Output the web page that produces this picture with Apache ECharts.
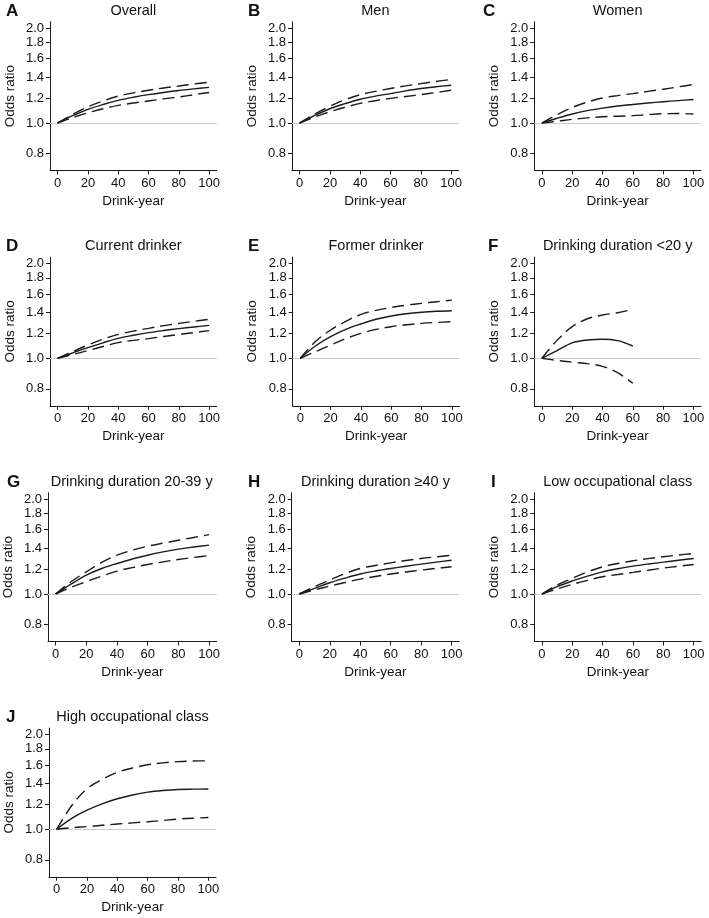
<!DOCTYPE html>
<html>
<head>
<meta charset="utf-8">
<script src="https://cdn.jsdelivr.net/npm/echarts@6/dist/echarts.min.js"></script>
<style>
html,body{margin:0;padding:0;background:#fff;}
#chart{width:709px;height:918px;}
</style>
</head>
<body>
<div id="chart"></div>
<script>
// ---- data ----
const drinkYears = [0, 10, 20, 30, 40, 50, 60, 70, 80, 90, 100];
const drinkYearsShort = [0, 10, 20, 30, 40, 50, 60];
const xTicks = [0, 20, 40, 60, 80, 100];
const yTicks = [0.8, 1.0, 1.2, 1.4, 1.6, 1.8, 2.0];

const panelLetters = ['A', 'B', 'C', 'D', 'E', 'F', 'G', 'H', 'I', 'J'];
const panelTitles = ['Overall', 'Men', 'Women', 'Current drinker', 'Former drinker',
  'Drinking duration <20 y', 'Drinking duration 20-39 y', 'Drinking duration \u226540 y',
  'Low occupational class', 'High occupational class'];

const orOverall = [1, 1.055, 1.105, 1.145, 1.18, 1.207, 1.23, 1.25, 1.268, 1.283, 1.297];
const upOverall = [1, 1.065, 1.126, 1.175, 1.217, 1.246, 1.27, 1.292, 1.31, 1.33, 1.347];
const loOverall = [1, 1.04, 1.078, 1.11, 1.137, 1.157, 1.175, 1.193, 1.21, 1.23, 1.25];

const orMen = [1, 1.057, 1.11, 1.152, 1.19, 1.217, 1.24, 1.265, 1.287, 1.303, 1.318];
const upMen = [1, 1.068, 1.13, 1.185, 1.23, 1.26, 1.287, 1.312, 1.334, 1.355, 1.374];
const loMen = [1, 1.045, 1.086, 1.122, 1.154, 1.177, 1.197, 1.214, 1.23, 1.25, 1.27];

const orWomen = [1, 1.035, 1.068, 1.095, 1.115, 1.132, 1.145, 1.157, 1.168, 1.178, 1.188];
const upWomen = [1, 1.062, 1.12, 1.165, 1.2, 1.222, 1.24, 1.26, 1.28, 1.302, 1.325];
const loWomen = [1, 1.013, 1.027, 1.038, 1.047, 1.051, 1.055, 1.063, 1.07, 1.072, 1.068];

const orCurrent = [1, 1.04, 1.081, 1.12, 1.157, 1.183, 1.206, 1.225, 1.242, 1.257, 1.272];
const upCurrent = [1, 1.05, 1.102, 1.15, 1.191, 1.22, 1.245, 1.27, 1.291, 1.31, 1.33];
const loCurrent = [1, 1.028, 1.058, 1.09, 1.121, 1.14, 1.155, 1.173, 1.19, 1.207, 1.224];

const orFormer = [1, 1.094, 1.171, 1.235, 1.285, 1.33, 1.362, 1.385, 1.40, 1.41, 1.416];
const upFormer = [1, 1.13, 1.23, 1.31, 1.379, 1.42, 1.45, 1.475, 1.494, 1.512, 1.53];
const loFormer = [1, 1.05, 1.102, 1.155, 1.2, 1.235, 1.26, 1.278, 1.291, 1.3, 1.307];

const orDurLt20 = [1, 1.058, 1.12, 1.143, 1.15, 1.138, 1.094];
const upDurLt20 = [1, 1.14, 1.26, 1.335, 1.372, 1.395, 1.43];
const loDurLt20 = [1, 0.985, 0.972, 0.962, 0.943, 0.9, 0.833];

const orDur2039 = [1, 1.075, 1.148, 1.205, 1.25, 1.292, 1.328, 1.36, 1.388, 1.41, 1.43];
const upDur2039 = [1, 1.094, 1.176, 1.26, 1.328, 1.378, 1.418, 1.45, 1.481, 1.512, 1.543];
const loDur2039 = [1, 1.05, 1.094, 1.14, 1.182, 1.213, 1.241, 1.265, 1.287, 1.306, 1.325];

const orDurGe40 = [1, 1.042, 1.086, 1.123, 1.157, 1.183, 1.205, 1.225, 1.244, 1.262, 1.28];
const upDurGe40 = [1, 1.055, 1.107, 1.16, 1.205, 1.232, 1.256, 1.277, 1.296, 1.312, 1.328];
const loDurGe40 = [1, 1.03, 1.06, 1.088, 1.115, 1.137, 1.157, 1.175, 1.191, 1.206, 1.22];

const orLowOcc = [1, 1.055, 1.1, 1.14, 1.176, 1.203, 1.226, 1.245, 1.262, 1.28, 1.296];
const upLowOcc = [1, 1.068, 1.121, 1.175, 1.22, 1.25, 1.275, 1.295, 1.313, 1.33, 1.345];
const loLowOcc = [1, 1.037, 1.073, 1.105, 1.134, 1.153, 1.171, 1.19, 1.209, 1.225, 1.241];

const orHighOcc = [1, 1.083, 1.15, 1.205, 1.25, 1.285, 1.312, 1.328, 1.338, 1.341, 1.342];
const upHighOcc = [1, 1.19, 1.345, 1.44, 1.516, 1.565, 1.603, 1.625, 1.64, 1.647, 1.65];
const loHighOcc = [1, 1.012, 1.02, 1.03, 1.039, 1.048, 1.057, 1.067, 1.078, 1.085, 1.09];

const panelData = [
  [drinkYears, orOverall, upOverall, loOverall],
  [drinkYears, orMen, upMen, loMen],
  [drinkYears, orWomen, upWomen, loWomen],
  [drinkYears, orCurrent, upCurrent, loCurrent],
  [drinkYears, orFormer, upFormer, loFormer],
  [drinkYearsShort, orDurLt20, upDurLt20, loDurLt20],
  [drinkYears, orDur2039, upDur2039, loDur2039],
  [drinkYears, orDurGe40, upDurGe40, loDurGe40],
  [drinkYears, orLowOcc, upLowOcc, loLowOcc],
  [drinkYears, orHighOcc, upHighOcc, loHighOcc]
];

// ---- layout ----
const rowOneY = [123, 358.3, 594, 829.3];          // pixel y of OR = 1.0
const gridLefts = [50, 292, 534.3, 50, 292.7, 534.3, 46.7, 291.7, 534.3, 49];
const gridWidths = [166.7, 166.7, 166.7, 166.7, 166.7, 166.7, 170, 167.5, 167, 167];
const letterLefts = [6, 248, 483, 6, 248, 488, 7, 248, 491, 6];
const PXU = 136.8;          // px per ln unit
const Y_MAX = 0.74, Y_MIN = -0.347;
const FONT = '"Liberation Sans", Arial, Helvetica, sans-serif';
const INK = '#1a1a1a';

const chart = echarts.init(document.getElementById('chart'), null, {renderer: 'canvas'});
const grids = [], xAxes = [], yAxes = [], series = [], titles = [];
const lnTicks = yTicks.map(v => Math.log(v));

for (let i = 0; i < 10; i++) {
  const row = Math.floor(i / 3);
  const oneY = rowOneY[row];
  const top = oneY - Y_MAX * PXU;
  const height = (Y_MAX - Y_MIN) * PXU;
  const left = gridLefts[i], width = gridWidths[i];
  grids.push({left: left, top: top, width: width, height: height, containLabel: false});
  xAxes.push({
    type: 'value', gridIndex: i, min: -5, max: 105,
    name: 'Drink-year', nameLocation: 'middle', nameGap: 24,
    nameTextStyle: {fontFamily: FONT, fontSize: 13.5, color: '#111'},
    axisLine: {show: true, onZero: false, lineStyle: {color: INK, width: 1}},
    axisTick: {show: true, length: 4, lineStyle: {color: INK}, customValues: xTicks},
    axisLabel: {show: true, fontFamily: FONT, fontSize: 13, color: '#111', margin: 6, customValues: xTicks},
    splitLine: {show: false}
  });
  yAxes.push({
    type: 'value', gridIndex: i, min: Y_MIN, max: Y_MAX,
    name: 'Odds ratio', nameLocation: 'middle', nameGap: 33, nameRotate: 90,
    nameTextStyle: {fontFamily: FONT, fontSize: 13.5, color: '#111'},
    axisLine: {show: true, onZero: false, lineStyle: {color: INK, width: 1}},
    axisTick: {show: true, length: 4, lineStyle: {color: INK}, customValues: lnTicks},
    axisLabel: {show: true, fontFamily: FONT, fontSize: 13, color: '#111', margin: 6,
      customValues: lnTicks, formatter: v => Math.exp(v).toFixed(1)},
    splitLine: {show: false}
  });
  const [xs, est, up, lo] = panelData[i];
  const mk = arr => xs.map((x, k) => [x, Math.log(arr[k])]);
  series.push({
    type: 'line', xAxisIndex: i, yAxisIndex: i, data: mk(est), showSymbol: false, symbol: 'none',
    smooth: 0.35, lineStyle: {color: INK, width: 1.4, type: 'solid'}, z: 3, silent: true,
    markLine: {silent: true, symbol: 'none', label: {show: false},
      lineStyle: {color: '#cccccc', width: 1, type: 'solid'}, data: [{yAxis: 0}], z: 1}
  });
  series.push({
    type: 'line', xAxisIndex: i, yAxisIndex: i, data: mk(up), showSymbol: false, symbol: 'none',
    smooth: 0.35, lineStyle: {color: INK, width: 1.4, type: [12, 6]}, z: 3, silent: true
  });
  series.push({
    type: 'line', xAxisIndex: i, yAxisIndex: i, data: mk(lo), showSymbol: false, symbol: 'none',
    smooth: 0.35, lineStyle: {color: INK, width: 1.4, type: [12, 6]}, z: 3, silent: true
  });
  titles.push({
    text: panelTitles[i], left: left + width / 2, top: oneY - 119.5, textAlign: 'center',
    padding: 0, textStyle: {fontFamily: FONT, fontSize: 14.5, fontWeight: 'normal', color: '#111'}
  });
  titles.push({
    text: panelLetters[i], left: letterLefts[i], top: oneY - 120, padding: 0,
    textStyle: {fontFamily: FONT, fontSize: 17, fontWeight: 'bold', color: '#111'}
  });
}

chart.setOption({
  backgroundColor: '#ffffff',
  animation: false,
  title: titles,
  grid: grids,
  xAxis: xAxes,
  yAxis: yAxes,
  series: series
});
</script>
</body>
</html>
